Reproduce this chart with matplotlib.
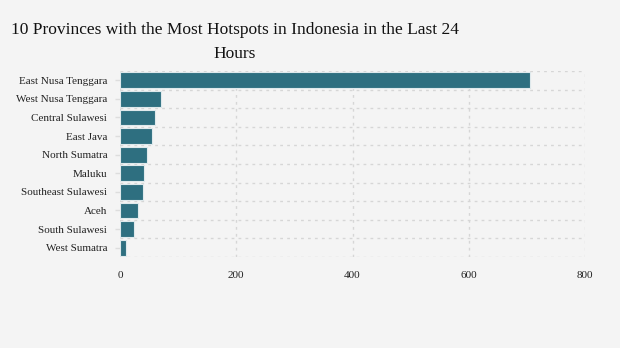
import matplotlib
matplotlib.use("Agg")
import matplotlib.pyplot as plt
import numpy as np

provinces = ["East Nusa Tenggara", "West Nusa Tenggara", "Central Sulawesi", "East Java",
             "North Sumatra", "Maluku", "Southeast Sulawesi", "Aceh", "South Sulawesi", "West Sumatra"]
hotspots = [706, 70, 60, 55, 46, 41, 39, 31, 24, 10]
x_ticks = [0, 200, 400, 600, 800]

bg = "#f4f4f4"
fig = plt.figure(figsize=(6.2, 3.48), dpi=100, facecolor=bg)
ax = fig.add_axes([120/620, 1-257/348, 465/620, 186/348], facecolor=bg)

y = np.arange(len(provinces))
ax.barh(y, hotspots, height=0.86, color="#2e6f80", edgecolor="#dfe9ec", linewidth=0.8, zorder=3)

ax.set_xlim(0, 800)
ax.set_ylim(len(provinces)-0.5, -0.5)
ax.set_xticks(x_ticks)
ax.set_xticklabels([str(v) for v in x_ticks], fontfamily="Liberation Serif", fontsize=8, color="#222222")
ax.set_yticks(y)
ax.set_yticklabels(provinces, fontfamily="Liberation Serif", fontsize=8, color="#222222")
ax.set_yticks(np.arange(-0.5, len(provinces)), minor=True)
ax.tick_params(axis="y", which="major", length=3.6, width=1, color="#dddddd", pad=5.5)
ax.tick_params(axis="y", which="minor", length=0)
ax.tick_params(axis="x", length=0, pad=10)
ax.grid(axis="y", which="minor", color="#d6d6d6", linestyle=(0, (2, 3)), linewidth=1, zorder=0)
ax.grid(axis="x", which="major", color="#d6d6d6", linestyle=(0, (2, 3)), linewidth=1, zorder=0)
ax.grid(axis="y", which="major", visible=False)
for s in ax.spines.values():
    s.set_visible(False)

fig.text(235/620, 1-42/348, "10 Provinces with the Most Hotspots in Indonesia in the Last 24\nHours",
         ha="center", va="center", fontfamily="Liberation Serif", fontsize=12.5, color="#111111",
         linespacing=1.6)

fig.savefig("out.png", dpi=100, facecolor=bg)
